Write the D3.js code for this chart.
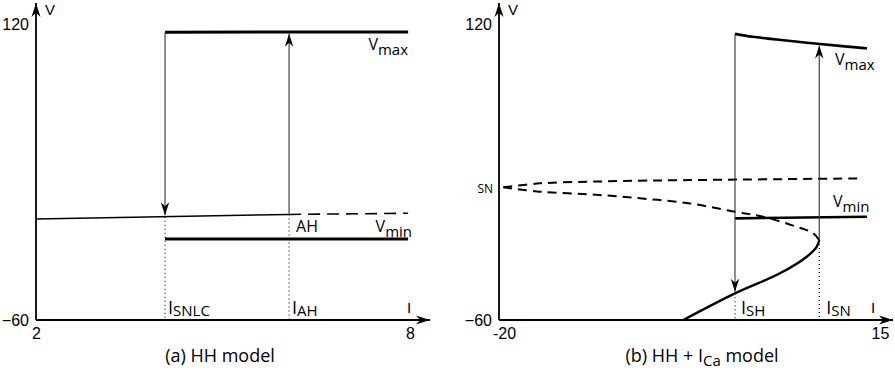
<!DOCTYPE html>
<html>
<head>
<meta charset="utf-8">
<script src="https://cdn.jsdelivr.net/npm/d3@7"></script>
<style>
  body { margin: 0; background: #fff; }
  svg { display: block; }
</style>
</head>
<body>
<svg id="chart" width="895" height="378"></svg>
<script>
// shared V axis
const vDomain = [-60, 120];
const vTicks = [-60, 120];
const vTickLabels = ["\u221260", "120"];

// (a) HH model, points are [I, V]
const hhDomain = [2, 8];
const hhTickLabels = ["2", "8"];
const hhRest = [[2, 1.4], [6.06, 4.2]];
const hhRestUnstable = [[6.06, 4.2], [7.97, 4.9]];
const hhVmax = [[4.07, 115.0], [7.97, 115.2]];
const hhVmin = [[4.07, -10.8], [7.97, -10.8]];
const hhISNLC = 4.07, hhIAH = 6.06;
const hhJumps = [[4.07, 115.0, 2.8], [6.06, 4.2, 115.0]]; // [I, from V, to V]
const hhDrops = [[4.07, 2.8], [6.06, 4.2]]; // dotted guides down to the I axis

// (b) HH + I_Ca model
const caDomain = [-20, 15];
const caTickLabels = ["-20", "15"];
const caStable = [[-3.07, -60], [1.68, -43.8], [5.81, -31.6], [8.27, -21.5], [9.18, -15.5], [9.42, -11.4]];
const caUnstableMid = [[9.42, -11.4], [8.87, -7.3], [7.34, -3.3], [4.28, 2.8], [1.68, 5.8], [-2.45, 10.9],
  [-7.05, 14.0], [-11.64, 16.4], [-16.23, 18.0], [-19.6, 20.7]];
const caUnstableTop = [[-19.6, 20.7], [-16.23, 23.1], [-11.64, 24.1], [-7.05, 24.7], [-2.45, 25.1], [13.44, 26.1]];
const caVmax = [[1.68, 114.0], [3.3, 112.2], [5.5, 110.6], [9.5, 107.8], [13.8, 105.2]];
const caVmin = [[1.68, 1.8], [13.8, 2.8]];
const caISH = 1.68, caISN = 9.42;
const caJumps = [[1.68, 114.0, -43.8], [9.42, -11.4, 107.9]];
const caDrops = [[1.68, -43.8], [9.42, -11.4]];

const mathFont = "'Open Sans', 'Noto Sans', sans-serif";
const tickFont = "'Liberation Sans', Arial, sans-serif";

const svg = d3.select("#chart");
svg.append("rect").attr("width", 895).attr("height", 378).attr("fill", "#fff");

const defs = svg.append("defs");
function arrowMarker(id, len, half) {
  defs.append("marker")
    .attr("id", id)
    .attr("markerUnits", "userSpaceOnUse")
    .attr("viewBox", `${-len - 1} ${-half - 1} ${len + 2} ${2 * half + 2}`)
    .attr("markerWidth", len + 2)
    .attr("markerHeight", 2 * half + 2)
    .attr("refX", 0).attr("refY", 0)
    .attr("orient", "auto")
    .append("path")
    .attr("d", `M0,0L${-len},${-half}L${-len * 0.7},0L${-len},${half}Z`)
    .attr("fill", "#000");
}
arrowMarker("head", 13, 4.2);
arrowMarker("axhead", 14, 4.5);

const y = d3.scaleLinear().domain(vDomain).range([320, 24]);

// label with an optional lowered subscript
function subLabel(g, px, py, main, sub, anchor, mainSize) {
  const t = g.append("text")
    .attr("x", px).attr("y", py)
    .attr("text-anchor", anchor || "start")
    .attr("font-family", mathFont)
    .attr("font-size", mainSize || 16);
  t.append("tspan").text(main);
  if (sub) t.append("tspan").attr("dy", mainSize ? 2 : 5).attr("font-size", 15).text(sub);
  return t;
}

function panel(opt) {
  const x = d3.scaleLinear().domain(opt.domain).range(opt.range);
  const x0 = opt.range[0];
  const g = svg.append("g");
  const line = d3.line().x(d => x(d[0])).y(d => y(d[1])).curve(d3.curveCatmullRom);

  // tick labels
  g.append("g")
    .attr("transform", `translate(${x0},0)`)
    .call(d3.axisLeft(y).tickValues(vTicks).tickFormat((d, i) => vTickLabels[i]).tickSize(0).tickPadding(7))
    .call(a => a.select(".domain").remove())
    .attr("font-family", tickFont).attr("font-size", 16)
    .selectAll("text").attr("fill", "#000");

  g.append("g")
    .attr("transform", "translate(0,320)")
    .call(d3.axisBottom(x).tickValues(opt.domain).tickFormat((d, i) => opt.tickLabels[i]).tickSize(0).tickPadding(8))
    .call(a => a.select(".domain").remove())
    .attr("font-family", tickFont).attr("font-size", 16)
    .selectAll("text").attr("fill", "#000")
    .attr("dx", (d, i) => i === 0 && opt.firstDx ? opt.firstDx : 0);

  // axis lines with arrow heads
  g.append("line").attr("x1", x0).attr("y1", 320).attr("x2", x0).attr("y2", 3)
    .attr("stroke", "#000").attr("stroke-width", 1.8).attr("marker-end", "url(#axhead)");
  g.append("line").attr("x1", x0).attr("y1", 320).attr("x2", opt.axisEnd).attr("y2", 320)
    .attr("stroke", "#000").attr("stroke-width", 1.8).attr("marker-end", "url(#axhead)");

  g.append("text").attr("x", x0 + 9).attr("y", 15)
    .attr("font-family", tickFont).attr("font-size", 15).text("V");
  g.append("text").attr("x", opt.iLabelX).attr("y", 313)
    .attr("font-family", tickFont).attr("font-size", 15).text("I");

  // dotted guides
  opt.drops.forEach(d => {
    g.append("line")
      .attr("x1", x(d[0])).attr("x2", x(d[0]))
      .attr("y1", y(d[1])).attr("y2", 319)
      .attr("stroke", "#000").attr("stroke-width", 1.1).attr("stroke-dasharray", "1,3");
  });

  // branches
  opt.curves.forEach(c => {
    g.append("path").attr("d", line(c.data))
      .attr("fill", "none").attr("stroke", "#000")
      .attr("stroke-width", c.w)
      .attr("stroke-dasharray", c.dash || null);
  });

  // jumps
  opt.jumps.forEach(j => {
    const dir = j[2] > j[1] ? 1 : -1;
    g.append("line")
      .attr("x1", x(j[0])).attr("x2", x(j[0]))
      .attr("y1", y(j[1])).attr("y2", y(j[2]) + dir * 1.5)
      .attr("stroke", "#333").attr("stroke-width", 1.1)
      .attr("marker-end", "url(#head)");
  });

  return { g, x };
}

// (a)
const a = panel({
  domain: hhDomain, range: [36, 410], tickLabels: hhTickLabels, axisEnd: 430, iLabelX: 407,
  drops: hhDrops, jumps: hhJumps,
  curves: [
    { data: hhRest, w: 1.4 },
    { data: hhRestUnstable, w: 1.6, dash: "12,7" },
    { data: hhVmax, w: 3 },
    { data: hhVmin, w: 3 }
  ]
});
subLabel(a.g, 408, 50, "V", "max", "end");
subLabel(a.g, 412, 232, "V", "min", "end");
subLabel(a.g, a.x(hhIAH) + 7, 232, "AH");
subLabel(a.g, a.x(hhISNLC) + 3, 314, "I", "SNLC", "start", 18);
subLabel(a.g, a.x(hhIAH) + 3, 314, "I", "AH", "start", 18);
a.g.append("text").attr("x", 220).attr("y", 362).attr("text-anchor", "middle")
  .attr("font-family", mathFont).attr("font-size", 18).text("(a) HH model");

// (b)
const b = panel({
  domain: caDomain, range: [499, 880], tickLabels: caTickLabels, axisEnd: 893, iLabelX: 871,
  drops: caDrops, jumps: caJumps, firstDx: 5,
  curves: [
    { data: caStable, w: 2.4 },
    { data: caUnstableMid, w: 2, dash: "9,6" },
    { data: caUnstableTop, w: 2, dash: "9,6" },
    { data: caVmax, w: 2.6 },
    { data: caVmin, w: 2.6 }
  ]
});
b.g.append("text").attr("x", 493).attr("y", 193).attr("text-anchor", "end")
  .attr("font-family", mathFont).attr("font-size", 12).text("SN");
subLabel(b.g, 835, 65, "V", "max");
subLabel(b.g, 833, 207, "V", "min");
subLabel(b.g, b.x(caISH) + 6, 314, "I", "SH", "start", 18);
subLabel(b.g, b.x(caISN) + 7, 314, "I", "SN", "start", 18);
const cap = b.g.append("text").attr("x", 702).attr("y", 362).attr("text-anchor", "middle")
  .attr("font-family", mathFont).attr("font-size", 18);
cap.append("tspan").text("(b) HH + I");
cap.append("tspan").attr("dy", 4).attr("font-size", 15).text("Ca");
cap.append("tspan").attr("dy", -4).text(" model");
</script>
</body>
</html>
